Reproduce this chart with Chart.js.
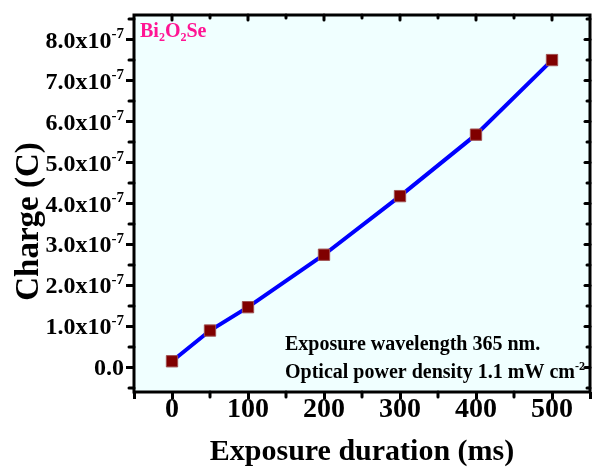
<!DOCTYPE html>
<html>
<head>
<meta charset="utf-8">
<script src="https://cdn.jsdelivr.net/npm/chart.js@4"></script>
<style>
body { margin: 0; background: #fff; }
#wrap { width: 593px; height: 471px; }
</style>
</head>
<body>
<div id="wrap"><canvas id="myChart"></canvas></div>
<script>
var ctx = document.getElementById('myChart');

var durations = [0, 50, 100, 200, 300, 400, 500];
var charge = [0.15e-7, 0.9e-7, 1.47e-7, 2.75e-7, 4.18e-7, 5.68e-7, 7.5e-7];
var xTicks = [-50, 0, 100, 200, 300, 400, 500, 550];
var yTicks = [0, 1e-7, 2e-7, 3e-7, 4e-7, 5e-7, 6e-7, 7e-7, 8e-7];

var serif = '"Liberation Serif", "DejaVu Serif", serif';

// text with sub/superscripts: parts = [[text, mode]] mode: 0 normal, 1 sup, -1 sub
function drawRich(c, parts, x, y, size, align) {
  var small = Math.round(size * 0.62);
  var w = 0;
  parts.forEach(function (p) {
    c.font = 'bold ' + (p[1] ? small : size) + 'px ' + serif;
    w += c.measureText(p[0]).width;
  });
  var cx = align === 'right' ? x - w : x;
  c.textAlign = 'left';
  c.textBaseline = 'alphabetic';
  parts.forEach(function (p) {
    c.font = 'bold ' + (p[1] ? small : size) + 'px ' + serif;
    var dy = p[1] === 1 ? -size * 0.38 : (p[1] === -1 ? size * 0.22 : 0);
    c.fillText(p[0], cx, y + dy);
    cx += c.measureText(p[0]).width;
  });
}

var framePlugin = {
  id: 'frame',
  beforeDraw: function (chart) {
    var a = chart.chartArea, c = chart.ctx;
    c.save();
    c.fillStyle = '#f0ffff';
    c.fillRect(a.left, a.top, a.right - a.left, a.bottom - a.top);
    c.restore();
  },
  afterDraw: function (chart) {
    var a = chart.chartArea, c = chart.ctx;
    var xs = chart.scales.x, ys = chart.scales.y;
    c.save();
    c.strokeStyle = '#000';
    c.lineWidth = 3;
    c.strokeRect(a.left, a.top, a.right - a.left, a.bottom - a.top);
    c.lineCap = 'round';
    // x ticks: minor below, top inward
    for (var v = 0; v <= 500; v += 50) {
      var px = xs.getPixelForValue(v);
      var major = v % 100 === 0;
      c.beginPath();
      if (!major) { c.moveTo(px, a.bottom); c.lineTo(px, a.bottom + 5); }
      c.moveTo(px, a.top); c.lineTo(px, a.top + (major ? 5 : 3));
      c.stroke();
    }
    // y ticks: minor left, right inward
    for (var i = -1; i <= 17; i++) {
      var val = i * 0.5e-7;
      var py = ys.getPixelForValue(val);
      if (py < a.top || py > a.bottom) continue;
      var maj = i % 2 === 0;
      c.beginPath();
      if (!maj) { c.moveTo(a.left, py); c.lineTo(a.left - 5, py); }
      c.moveTo(a.right, py); c.lineTo(a.right - (maj ? 5 : 3), py);
      c.stroke();
    }
    c.fillStyle = '#000';
    // y tick labels
    yTicks.forEach(function (t) {
      var py = ys.getPixelForValue(t);
      var n = Math.round(t / 1e-7);
      var parts = n === 0 ? [['0.0', 0]] : [[n.toFixed(1) + 'x10', 0], ['-7', 1]];
      drawRich(c, parts, a.left - 10, py + 8, 24, 'right');
    });
    // y title
    c.save();
    c.translate(29, (a.top + a.bottom) / 2 + 18);
    c.rotate(-Math.PI / 2);
    c.font = 'bold 33px ' + serif;
    c.textAlign = 'center';
    c.textBaseline = 'middle';
    c.fillText('Charge (C)', 0, 0);
    c.restore();
    // labels
    c.fillStyle = '#ff1493';
    drawRich(c, [['Bi', 0], ['2', -1], ['O', 0], ['2', -1], ['Se', 0]], a.left + 6, a.top + 22, 20, 'left');
    c.fillStyle = '#000';
    drawRich(c, [['Exposure wavelength 365 nm.', 0]], 285, 350, 20, 'left');
    drawRich(c, [['Optical power density 1.1 mW cm', 0], ['-2', 1]], 285, 378, 20, 'left');
    c.restore();
  }
};

var myChart = new Chart(ctx, {
  type: 'line',
  data: {
    datasets: [{
      data: durations.map(function (d, i) { return { x: d, y: charge[i] }; }),
      borderColor: '#0000ff',
      borderWidth: 4,
      pointStyle: 'rect',
      pointRadius: 8,
      pointBackgroundColor: '#800000',
      pointBorderColor: '#a05050',
      pointBorderWidth: 1,
      tension: 0
    }]
  },
  options: {
    maintainAspectRatio: false,
    animation: false,
    events: [],
    layout: { autoPadding: false, padding: { left: 126, top: 15, right: 3, bottom: 2 } },
    plugins: { legend: { display: false }, tooltip: { enabled: false } },
    scales: {
      x: {
        type: 'linear',
        min: -50,
        max: 550,
        afterBuildTicks: function (s) { s.ticks = xTicks.map(function (v) { return { value: v }; }); },
        grid: { drawOnChartArea: false, tickLength: 7, tickWidth: 3, tickColor: '#000' },
        border: { display: false },
        ticks: {
          color: '#000', padding: -3, font: { family: serif, size: 28, weight: 'bold', lineHeight: 1 },
          callback: function (v) { return (v < 0 || v > 500) ? '' : String(v); }
        },
        title: { display: true, text: 'Exposure duration (ms)', color: '#000', padding: { top: 16, bottom: 2 },
                 font: { family: serif, size: 30, weight: 'bold', lineHeight: 1 } }
      },
      y: {
        type: 'linear',
        min: -0.6e-7,
        max: 8.6e-7,
        afterBuildTicks: function (s) { s.ticks = yTicks.map(function (v) { return { value: v }; }); },
        grid: { drawOnChartArea: false, tickLength: 8, tickWidth: 3, tickColor: '#000' },
        border: { display: false },
        ticks: { display: false }
      }
    }
  },
  plugins: [framePlugin]
});
</script>
</body>
</html>
